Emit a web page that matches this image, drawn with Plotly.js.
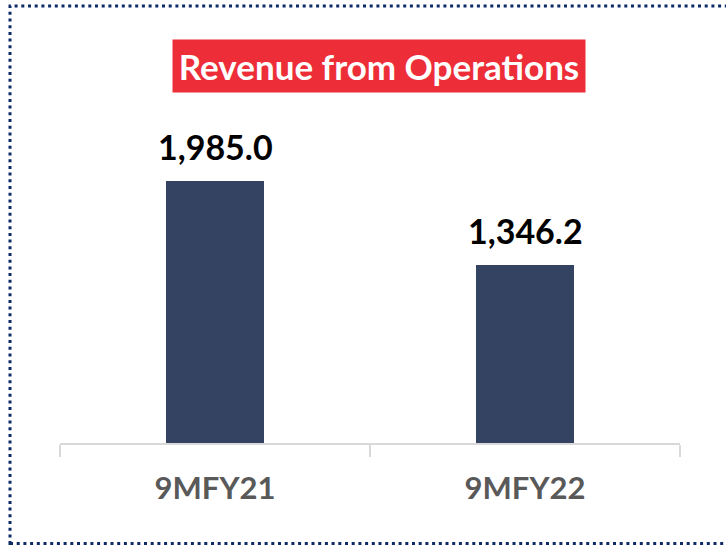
<!DOCTYPE html>
<html>
<head>
<meta charset="utf-8">
<script src="https://cdn.plot.ly/plotly-3.0.1.min.js"></script>
<style>
  html, body { margin: 0; padding: 0; background: #ffffff; }
  #chart { width: 726px; height: 545px; }
</style>
</head>
<body>
<div id="chart"></div>
<script>
// ---- data ----
const categories = ["9MFY21", "9MFY22"];
const revenue = [1985.0, 1346.2];
const valueLabels = ["1,985.0", "1,346.2"];
const chartTitle = "Revenue from Operations";

// ---- layout helpers ----
const W = 726, H = 545;
const M = { l: 60, r: 46, t: 100, b: 102 };
const plotW = W - M.l - M.r;
const plotH = H - M.t - M.b;
const px2x = px => (px - M.l) / plotW;
const py2y = py => (H - M.b - py) / plotH;

const FONT = "Lato";

const trace = {
  type: "bar",
  x: categories,
  y: revenue,
  width: 0.313,
  marker: { color: "#344361" },
  hoverinfo: "skip"
};

const labelAnnotations = categories.map((c, i) => ({
  x: c,
  y: revenue[i],
  xref: "x",
  yref: "y",
  text: "<b>" + valueLabels[i] + "</b>",
  showarrow: false,
  yanchor: "middle",
  yshift: 35,
  font: { family: FONT, size: 34, color: "#000000" }
}));

const layout = {
  width: W,
  height: H,
  margin: M,
  paper_bgcolor: "#ffffff",
  plot_bgcolor: "#ffffff",
  showlegend: false,
  bargap: 0,
  xaxis: {
    type: "category",
    showline: true,
    linecolor: "#d9d9d9",
    linewidth: 2,
    ticks: "outside",
    tickson: "boundaries",
    ticklen: 12,
    tickwidth: 2,
    tickcolor: "#d9d9d9",
    showgrid: false,
    zeroline: false,
    ticklabelstandoff: 17,
    tickfont: { family: FONT, size: 31, color: "#595959", weight: "bold" }
  },
  yaxis: {
    range: [0, 2600],
    visible: false,
    showgrid: false,
    zeroline: false
  },
  annotations: [
    {
      xref: "paper", yref: "paper",
      x: px2x(379), y: py2y(66),
      xanchor: "center", yanchor: "middle",
      text: "<b>" + chartTitle + "</b>",
      showarrow: false,
      bgcolor: "#ed2d38",
      width: 408, height: 48,
      borderpad: 2,
      font: { family: FONT, size: 35, color: "#ffffff" }
    }
  ].concat(labelAnnotations),
  shapes: [
    {
      type: "rect",
      xref: "paper", yref: "paper",
      x0: px2x(10), x1: px2x(740),
      y0: py2y(543.5), y1: py2y(6),
      line: { color: "#0d2a66", width: 3, dash: "3px,3.7px" },
      fillcolor: "rgba(0,0,0,0)",
      layer: "below"
    }
  ]
};

Plotly.newPlot("chart", [trace], layout, { staticPlot: true, displayModeBar: false });
</script>
</body>
</html>
